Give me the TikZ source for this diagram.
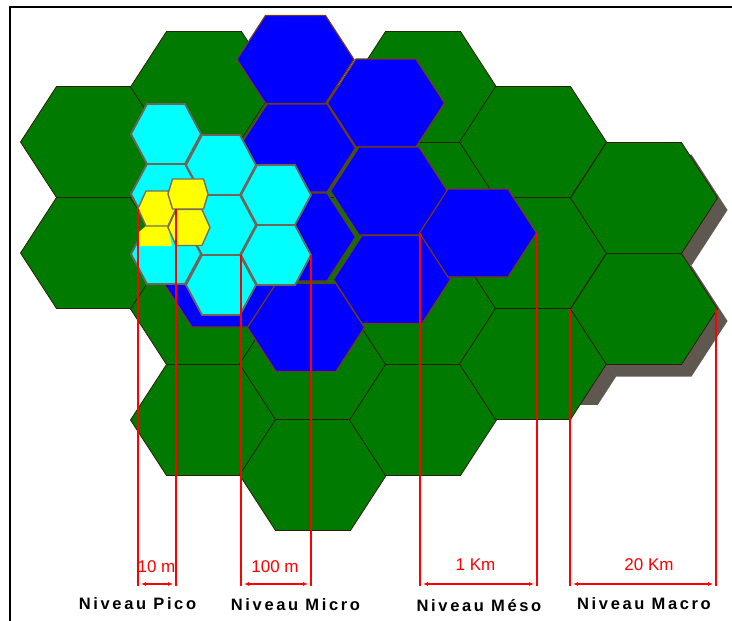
\documentclass[tikz,border=0pt]{standalone}
\usepackage{fontspec}
\setmainfont{Liberation Sans}
\newfontfamily\levelfont{Liberation Sans}[LetterSpace=16]
\usepackage{tikz}
\usetikzlibrary{arrows.meta}

\definecolor{macrogreen}{RGB}{0,122,0}
\definecolor{macroedge}{RGB}{45,30,10}
\definecolor{mesoblue}{RGB}{0,0,255}
\definecolor{mesoedge}{RGB}{115,60,20}
\definecolor{microcyan}{RGB}{0,255,255}
\definecolor{microedge}{RGB}{110,100,88}
\definecolor{picoyellow}{RGB}{255,255,0}
\definecolor{picoedge}{RGB}{120,110,90}
\definecolor{shadowgray}{RGB}{95,88,80}

% hexagon path: centre x, centre y, half width, half top edge, half height
\newcommand{\hexpath}[5]{(#1-#3,#2) -- (#1-#4,#2-#5) -- (#1+#4,#2-#5) -- (#1+#3,#2) -- (#1+#4,#2+#5) -- (#1-#4,#2+#5) -- cycle}

\begin{document}
\begin{tikzpicture}[x=1pt, y=-1pt,
frame/.style={draw=black, line width=1.8pt},
shadowcell/.style={fill=shadowgray},
macro/.style={fill=macrogreen, draw=macroedge, line width=0.8pt},
meso/.style={fill=mesoblue, draw=mesoedge, line width=1.2pt},
micro/.style={fill=microcyan, draw=microedge, line width=1.8pt},
pico/.style={fill=picoyellow, draw=picoedge, line width=1.4pt},
dimline/.style={draw=red, line width=2pt},
dimarr/.style={draw=red, line width=1.2pt, {Latex[length=5pt,width=4pt]}-{Latex[length=5pt,width=4pt]}, shorten <=3pt, shorten >=3pt},
dimlbl/.style={anchor=base, text=red, font=\fontsize{17}{19}\selectfont},
level/.style={anchor=base, font=\levelfont\bfseries\fontsize{16.5}{18}\selectfont}
]
\useasboundingbox (0,0) rectangle (732,621);
\draw[frame] (10,621) -- (10,7) -- (732,7);

% shadow of the right border
\fill[shadowcell] \hexpath{654}{210}{73.5}{37.5}{55.5};
\fill[shadowcell] \hexpath{654}{321}{73.5}{37.5}{55.5};
\begin{scope}
\clip (500,300) rectangle (732,404);
\fill[shadowcell] \hexpath{543}{376}{73.5}{37.5}{55.5};
\end{scope}

% macro cells
\foreach \x/\y in {94/142, 94/253,
  204/87, 204/198, 204/309, 204/420,
  313/142, 313/253, 313/364, 313/475,
  423/87, 423/198, 423/309, 423/420,
  533/142, 533/253, 533/364,
  644/198, 644/309}
  \draw[macro] \hexpath{\x}{\y}{73.5}{37.5}{55.5};

% meso cells
\foreach \x/\y in {222/283, 295.5/59.5, 297/148, 297/237, 306/327.5,
  386/103, 389/191, 392/279.5, 478/233}
  \draw[meso] \hexpath{\x}{\y}{58.5}{30}{44};

% micro cells
\foreach \x/\y in {166/134, 221/165, 276/195,
  166/194, 221/225, 276/255,
  166/254, 221/285}
  \draw[micro] \hexpath{\x}{\y}{35}{19}{30};

% pico cells
\fill[picoyellow] (146,226) -- (168,226) -- (172,246) -- (139,246) -- (139,232) -- cycle;
\draw[pico] \hexpath{157}{208.5}{19}{11}{17.5};
\draw[pico] \hexpath{188}{194}{20}{15.5}{15};
\draw[pico] \hexpath{189}{227.5}{21}{13}{18};

% cell widths
\coordinate (picoL) at (138,208.5);
\coordinate (picoR) at (176,208.5);
\coordinate (microL) at (241,255);
\coordinate (microR) at (311,255);
\coordinate (mesoL) at (420,233);
\coordinate (mesoR) at (537,233);
\coordinate (macroL) at (570,309);
\coordinate (macroR) at (716,309);
\coordinate (foot) at (0,586);
\coordinate (dimrow) at (0,584);

\draw[dimline] (picoL) -- (picoL |- foot);
\draw[dimline] (picoR) -- (picoR |- foot);
\draw[dimline] (microL) -- (microL |- foot);
\draw[dimline] (microR) -- (microR |- foot);
\draw[dimline] (mesoL) -- (mesoL |- foot);
\draw[dimline] (mesoR) -- (mesoR |- foot);
\draw[dimline] (macroL) -- (macroL |- foot);
\draw[dimline] (macroR) -- (macroR |- foot);

\draw[dimarr] (picoL |- dimrow) -- (picoR |- dimrow);
\draw[dimarr] (microL |- dimrow) -- (microR |- dimrow);
\draw[dimarr] (mesoL |- dimrow) -- (mesoR |- dimrow);
\draw[dimarr] (macroL |- dimrow) -- (macroR |- dimrow);

\node[dimlbl] (picoTxt) at (156.5,572) {10 m};
\node[dimlbl] (microTxt) at (275,572) {100 m};
\node[dimlbl] (mesoTxt) at (475.5,570) {1 Km};
\node[dimlbl] (macroTxt) at (649,570) {20 Km};

\node[level] (picoLvl) at (137.5,609) {Niveau Pico};
\node[level] (microLvl) at (295.5,610) {Niveau Micro};
\node[level] (mesoLvl) at (479,611) {Niveau Méso};
\node[level] (macroLvl) at (644,609) {Niveau Macro};
\end{tikzpicture}
\end{document}
